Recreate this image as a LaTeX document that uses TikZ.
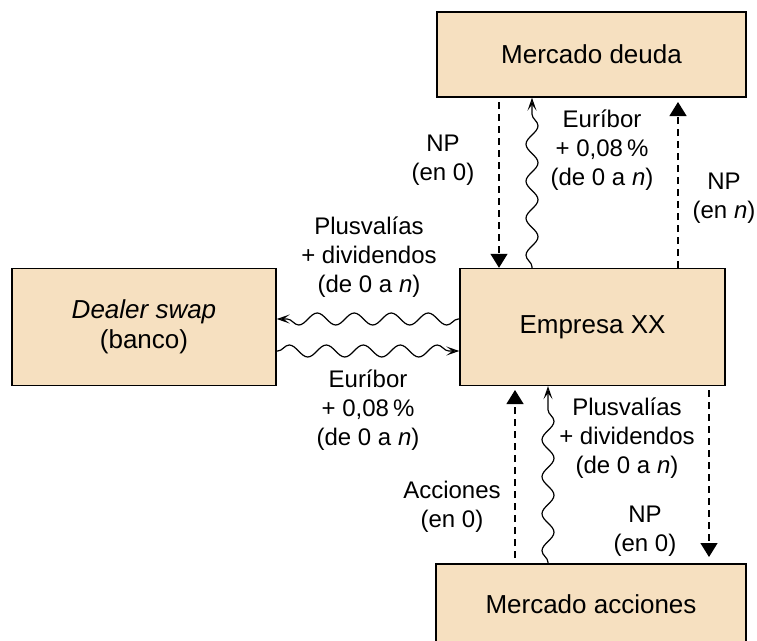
\documentclass[tikz,border=0pt]{standalone}
\usepackage{fontspec}
\setmainfont{Liberation Sans}
\usetikzlibrary{arrows.meta,decorations.pathmorphing}
\definecolor{boxfill}{RGB}{246,224,192}
\begin{document}
\begin{tikzpicture}[x=1pt,y=-1pt,
  box/.style={draw, line width=1.4pt, fill=boxfill, inner sep=0pt, align=center,
    font=\fontsize{26}{30}\selectfont},
  lbl/.style={inner sep=0pt, align=center, font=\fontsize{24}{29}\selectfont},
  dflow/.style={line width=1.3pt, dash pattern=on 7pt off 5pt,
    -{Triangle[length=14pt,width=17pt]}},
  wflow/.style={line width=1.2pt, decorate,
    decoration={snake, amplitude=6pt, segment length=37pt, pre length=1pt, post length=8pt},
    -{Stealth[open,length=13pt,width=9pt,inset=6pt]}}]
\useasboundingbox (0,0) rectangle (757,640);

% boxes
\node[box, minimum width=309pt, minimum height=85pt] (deuda) at (591.5,54.5) {Mercado deuda};
\node[box, minimum width=265pt, minimum height=117pt] (emp) at (592.5,327) {Empresa XX};
\node[box, minimum width=264pt, minimum height=117pt] (dealer) at (144,327) {\textit{Dealer swap}\\(banco)};
\node[box, minimum width=310pt, minimum height=80pt] (acc) at (591,604) {Mercado acciones};

% top connectors
\coordinate (t1) at (499,102);
\draw[dflow] (t1) -- (t1 |- emp.north);
\coordinate (t2) at (532,0);
\draw[wflow] (t2 |- emp.north) -- (t2 |- deuda.south);
\coordinate (t3) at (678,268);
\coordinate (t3e) at (678,102);
\draw[dflow] (t3) -- (t3e);

% horizontal connectors
\coordinate (h1) at (0,319);
\draw[wflow] (h1 -| emp.west) -- (h1 -| dealer.east);
\coordinate (h2) at (0,351);
\draw[wflow] (h2 -| dealer.east) -- (h2 -| emp.west);

% bottom connectors
\coordinate (b1) at (515,558);
\coordinate (b1e) at (515,390);
\draw[dflow] (b1) -- (b1e);
\coordinate (b2) at (548,0);
\draw[wflow] (b2 |- acc.north) -- (b2 |- emp.south);
\coordinate (b3) at (709,390);
\coordinate (b3e) at (709,557);
\draw[dflow] (b3) -- (b3e);

% labels
\node[lbl] (l1) at (443,160) {NP\\(en 0)};
\node[lbl] (l2) at (602,150) {Euríbor\\+ 0,08\,\%\\(de 0 a \textit{n})};
\node[lbl] (l3) at (724,198) {NP\\(en \textit{n})};
\node[lbl] (l4) at (369,257) {Plusvalías\\+ dividendos\\(de 0 a \textit{n})};
\node[lbl] (l5) at (368,410) {Euríbor\\+ 0,08\,\%\\(de 0 a \textit{n})};
\node[lbl] (l6) at (627,438) {Plusvalías\\+ dividendos\\(de 0 a \textit{n})};
\node[lbl] (l7) at (452,507) {Acciones\\(en 0)};
\node[lbl] (l8) at (645,531) {NP\\(en 0)};
\end{tikzpicture}
\end{document}
